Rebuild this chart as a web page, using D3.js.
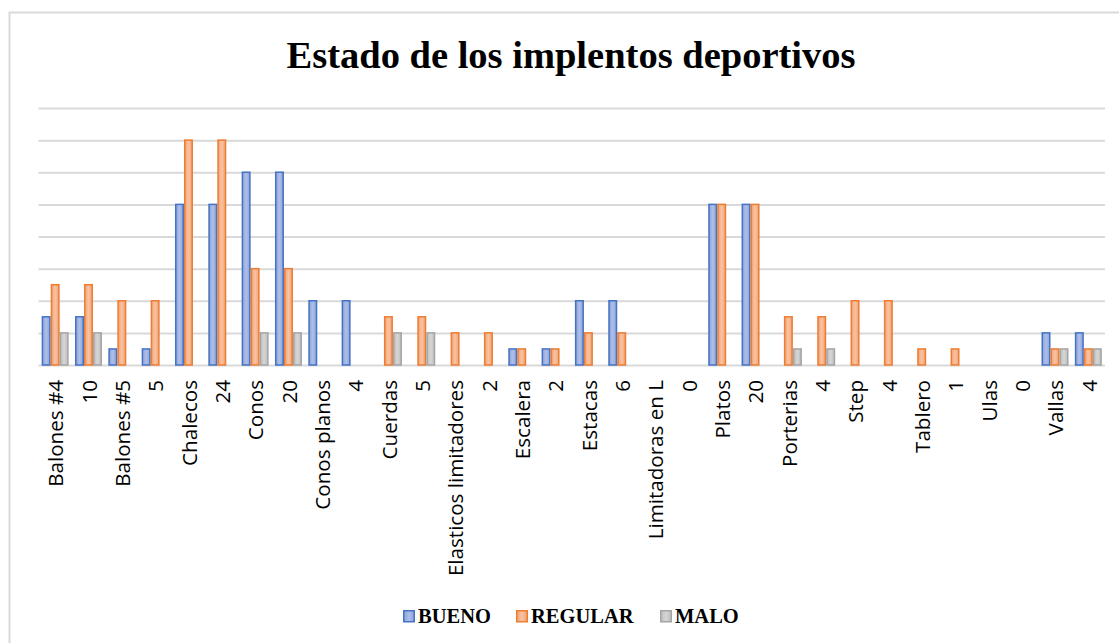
<!DOCTYPE html>
<html lang="es">
<head>
<meta charset="utf-8">
<title>Estado de los implentos deportivos</title>
<script src="https://d3js.org/d3.v7.min.js"></script>
<style>
  body { margin: 0; background: #fff; }
  svg { display: block; }
  .cat text { font-family: "Open Sans", "Noto Sans", sans-serif; font-size: 20.6px; fill: #000; }
</style>
</head>
<body>
<svg width="1119" height="643"></svg>
<script>
// categories (item name followed by its total, as on the original sheet)
var categories = ["Balones #4", "10", "Balones #5", "5", "Chalecos", "24", "Conos", "20",
  "Conos planos", "4", "Cuerdas", "5", "Elasticos limitadores", "2", "Escalera", "2",
  "Estacas", "6", "Limitadoras en L", "0", "Platos", "20", "Porterias", "4",
  "Step", "4", "Tablero", "1", "Ulas", "0", "Vallas", "4"];

var bueno   = [3, 3, 1, 1, 10, 10, 12, 12, 4, 4, 0, 0, 0, 0, 1, 1, 4, 4, 0, 0, 10, 10, 0, 0, 0, 0, 0, 0, 0, 0, 2, 2];
var regular = [5, 5, 4, 4, 14, 14, 6, 6, 0, 0, 3, 3, 2, 2, 1, 1, 2, 2, 0, 0, 10, 10, 3, 3, 4, 4, 1, 1, 0, 0, 1, 1];
var malo    = [2, 2, 0, 0, 0, 0, 2, 2, 0, 0, 2, 2, 0, 0, 0, 0, 0, 0, 0, 0, 0, 0, 1, 1, 0, 0, 0, 0, 0, 0, 1, 1];

var seriesNames = ["BUENO", "REGULAR", "MALO"];
var gridTicks = [0, 2, 4, 6, 8, 10, 12, 14, 16];

var series = [bueno, regular, malo];
var strokes = ["#4472C4", "#ED7D31", "#A5A5A5"];
var fills = [["#8CA3DA", "#AEBFE8"], ["#F3A272", "#F8C3A4"], ["#BDBDBD", "#D6D6D6"]];

var svg = d3.select('svg');

// gradients for the bar fills
var defs = svg.append('defs');
fills.forEach(function(f, i) {
  var g = defs.append('linearGradient').attr('id', 'grad' + i)
    .attr('x1', '0%').attr('x2', '100%').attr('y1', '0%').attr('y2', '0%');
  g.append('stop').attr('offset', '0%').attr('stop-color', f[0]);
  g.append('stop').attr('offset', '50%').attr('stop-color', f[1]);
  g.append('stop').attr('offset', '100%').attr('stop-color', f[0]);
});

// chart frame
svg.append('rect')
  .attr('x', 9.5).attr('y', 12.5)
  .attr('width', 1130).attr('height', 640)
  .attr('fill', 'none')
  .attr('stroke', '#d9d9d9')
  .attr('stroke-width', 2);

var plotLeft = 38.5, plotRight = 1105, plotTop = 108, plotBottom = 365;

var xScale = d3.scaleBand()
  .domain(d3.range(categories.length))
  .range([plotLeft, plotRight])
  .paddingInner(0.19)
  .paddingOuter(0.095);

var xSub = d3.scaleBand()
  .domain(d3.range(series.length))
  .range([0, xScale.bandwidth()]);

var yScale = d3.scaleLinear().domain([0, 16]).range([plotBottom, plotTop]);

// gridlines
var grid = svg.append('g')
  .attr('transform', 'translate(' + plotLeft + ',0)')
  .call(d3.axisLeft(yScale).tickValues(gridTicks).tickSize(-(plotRight - plotLeft)).tickFormat(''));
grid.select('.domain').remove();
grid.selectAll('line').attr('stroke', '#d9d9d9').attr('stroke-width', 2);

// title
svg.append('text')
  .attr('x', 571)
  .attr('y', 68)
  .attr('text-anchor', 'middle')
  .style('font-family', '"Liberation Serif", "Times New Roman", serif')
  .style('font-weight', 'bold')
  .style('font-size', '38.5px')
  .text('Estado de los implentos deportivos');

// bars
series.forEach(function(vals, s) {
  svg.append('g')
    .selectAll('rect')
    .data(vals.map(function(v, i) { return {i: i, v: v}; }).filter(function(d) { return d.v > 0; }))
    .enter()
    .append('rect')
    .attr('x', function(d) { return xScale(d.i) + xSub(s) + 0.75; })
    .attr('y', function(d) { return yScale(d.v); })
    .attr('width', xSub.bandwidth() - 1.5)
    .attr('height', function(d) { return yScale(0) - yScale(d.v); })
    .attr('fill', 'url(#grad' + s + ')')
    .attr('stroke', strokes[s])
    .attr('stroke-width', 1.5);
});

// category labels
var xAxis = svg.append('g')
  .attr('class', 'cat')
  .attr('transform', 'translate(0,' + plotBottom + ')')
  .call(d3.axisBottom(xScale).tickSize(0).tickFormat(function(i) { return categories[i]; }));
xAxis.select('.domain').remove();
xAxis.selectAll('text')
  .attr('transform', 'rotate(-90)')
  .attr('x', -15)
  .attr('y', 1)
  .attr('dy', '0.35em')
  .style('text-anchor', 'end');

// legend
var legendX = [403, 516, 660];
var legend = svg.append('g');
seriesNames.forEach(function(name, s) {
  legend.append('rect')
    .attr('x', legendX[s] + 0.75).attr('y', 610.75)
    .attr('width', 10.5).attr('height', 11)
    .attr('fill', 'url(#grad' + s + ')')
    .attr('stroke', strokes[s])
    .attr('stroke-width', 1.5);
  legend.append('text')
    .attr('x', legendX[s] + 15)
    .attr('y', 623)
    .style('font-family', '"Liberation Serif", "Times New Roman", serif')
    .style('font-weight', 'bold')
    .style('font-size', '20.5px')
    .text(name);
});
</script>
</body>
</html>
